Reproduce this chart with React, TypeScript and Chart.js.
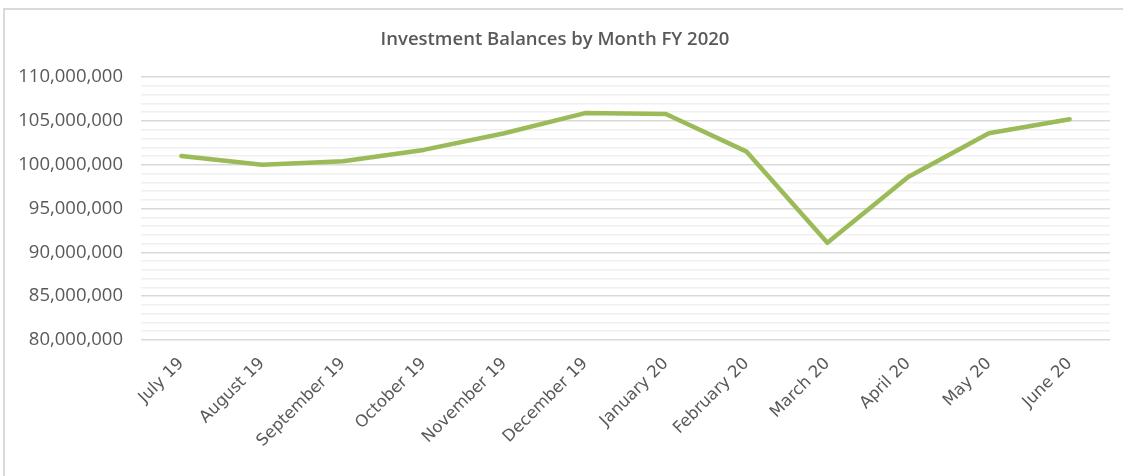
import React, { useEffect, useRef } from "react";
import { Chart, registerables } from "chart.js";

Chart.register(...registerables);

const months = [
  "July 19", "August 19", "September 19", "October 19", "November 19", "December 19",
  "January 20", "February 20", "March 20", "April 20", "May 20", "June 20",
];
const balances = [
  101000000, 100000000, 100400000, 101700000, 103600000, 105900000,
  105800000, 101500000, 91100000, 98600000, 103600000, 105200000,
];
const yMin = 80000000;
const yMax = 110000000;
const yMinorStep = 1000000;
const yMajorStep = 5000000;
const titleText = "Investment Balances by Month FY 2020";

export default function App() {
  const ref = useRef<HTMLCanvasElement | null>(null);

  useEffect(() => {
    if (!ref.current) return;
    const chart = new Chart(ref.current, {
      type: "line",
      data: {
        labels: months,
        datasets: [
          {
            label: "Balance",
            data: balances,
            borderColor: "#9BBB59",
            backgroundColor: "#9BBB59",
            borderWidth: 4.5,
            pointRadius: 0,
            tension: 0,
            borderCapStyle: "round",
            borderJoinStyle: "round",
          },
        ],
      },
      options: {
        responsive: false,
        animation: false,
        layout: { padding: { left: 0, right: 13, top: 0, bottom: 0 } },
        plugins: {
          legend: { display: false },
          tooltip: { enabled: false },
          title: {
            display: true,
            text: titleText,
            color: "#595959",
            font: { family: "'Open Sans', sans-serif", size: 18.5, weight: "600" },
            padding: { top: 29, bottom: 26 },
          },
        },
        scales: {
          x: {
            offset: true,
            grid: { display: false, drawTicks: false },
            border: { display: false },
            ticks: {
              color: "#595959",
              font: { family: "'DejaVu Sans', sans-serif", size: 16.5 },
              minRotation: 45,
              maxRotation: 45,
              autoSkip: false,
              padding: 14,
            },
            afterFit: (scale: any) => {
              scale.height = 136;
            },
          },
          y: {
            min: yMin,
            max: yMax,
            border: { display: false },
            grid: {
              drawTicks: false,
              color: (ctx: any) =>
                ctx.tick && ctx.tick.value % yMajorStep === 0 ? "#d9d9d9" : "#f0f0f0",
              lineWidth: 1.5,
            },
            ticks: {
              stepSize: yMinorStep,
              color: "#595959",
              font: { family: "'Open Sans', sans-serif", size: 18.5 },
              padding: 18,
              autoSkip: false,
              callback: (v: any) =>
                Number(v) % yMajorStep === 0 ? Number(v).toLocaleString("en-US") : "",
            },
            afterFit: (scale: any) => {
              scale.width = 141;
            },
          },
        },
      },
    });
    return () => chart.destroy();
  }, []);

  return (
    <div style={{ position: "absolute", left: 0, top: 0, width: 1123, height: 476, overflow: "hidden", background: "#fff" }}>
      <div
        style={{
          position: "absolute",
          left: 3,
          top: 8,
          width: 1140,
          height: 500,
          border: "2px solid #d9d9d9",
          boxSizing: "border-box",
        }}
      />
      <canvas ref={ref} width={1123} height={476} style={{ position: "absolute", left: 0, top: 0 }} />
    </div>
  );
}
